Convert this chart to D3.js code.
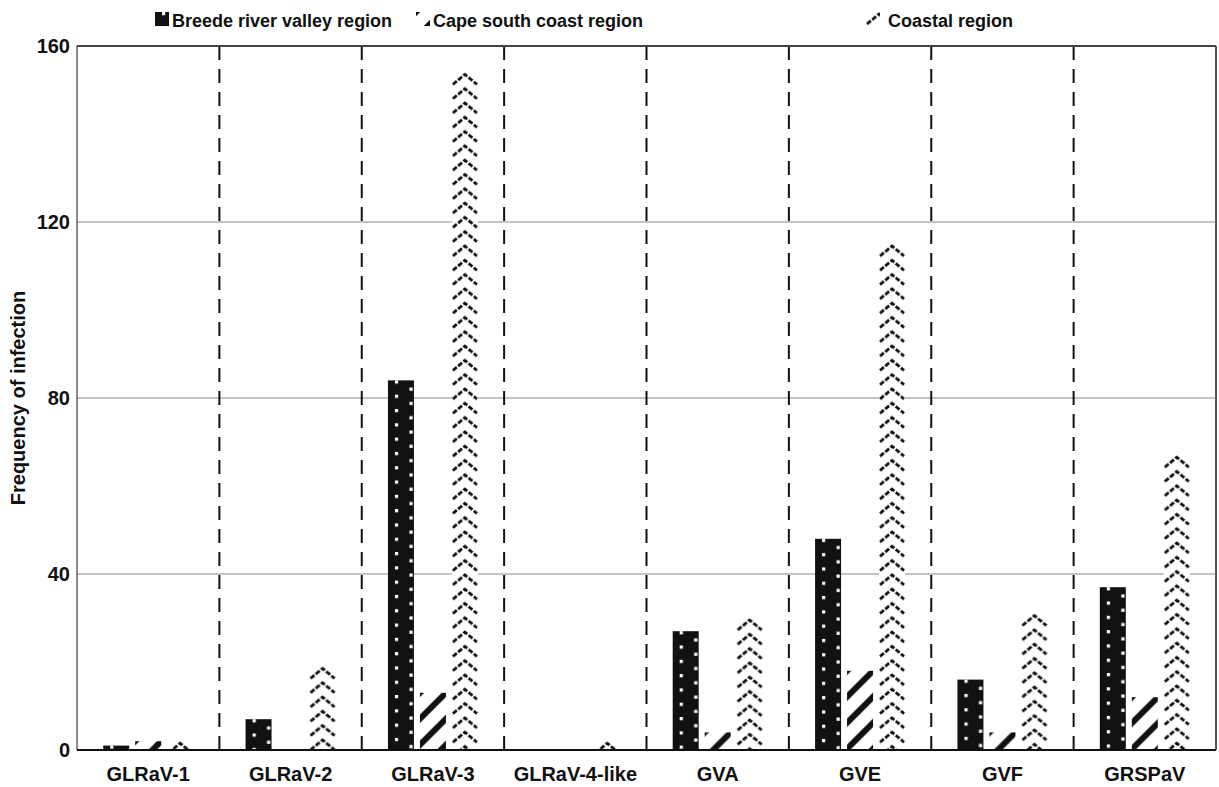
<!DOCTYPE html>
<head>
	<meta charset="utf-8">
	<title>Frequency of infection by region</title>
	<script src="https://cdn.jsdelivr.net/npm/d3@7"></script>
	<style>
		body { margin: 0; background: #fff; }
		text { font-family: "Liberation Sans", Arial, sans-serif; font-weight: bold; fill: #111; }
	</style>
</head>

<body>
	<div id="chart"></div>

	<script>
	// values
	var categories = ["GLRaV-1", "GLRaV-2", "GLRaV-3", "GLRaV-4-like", "GVA", "GVE", "GVF", "GRSPaV"];
	var seriesNames = ["Breede river valley region", "Cape south coast region", "Coastal region"];
	var breede  = [1, 7, 84, 0, 27, 48, 16, 37];
	var cape    = [2, 0, 13, 0, 4, 18, 4, 12];
	var coastal = [2, 19, 154, 2, 30, 115, 31, 67];
	var yTicks  = [0, 40, 80, 120, 160];

	var values = [breede, cape, coastal];
	var patternIds = ["pat-dots", "pat-stripes", "pat-chevron"];

	var width = 1219, height = 787;
	var margin = {top: 46, right: 3, bottom: 37, left: 77};

	var svg = d3.select("#chart").append("svg")
		.attr("width", width)
		.attr("height", height);

	// --- fill patterns
	var defs = svg.append("defs");

	var dots = defs.append("pattern")
		.attr("id", "pat-dots")
		.attr("patternUnits", "userSpaceOnUse")
		.attr("width", 29).attr("height", 14.3);
	dots.append("rect").attr("width", 29).attr("height", 14.3).attr("fill", "#111");
	dots.append("rect").attr("x", 7).attr("y", 0).attr("width", 3.2).attr("height", 3.2).attr("fill", "#fff");
	dots.append("rect").attr("x", 21.5).attr("y", 7.15).attr("width", 3.2).attr("height", 3.2).attr("fill", "#fff");

	var stripes = defs.append("pattern")
		.attr("id", "pat-stripes")
		.attr("patternUnits", "userSpaceOnUse")
		.attr("width", 26).attr("height", 26);
	stripes.append("rect").attr("width", 26).attr("height", 26).attr("fill", "#fff");
	stripes.append("path")
		.attr("d", "M-4,30 L30,-4 M-4,4 L4,-4 M22,30 L30,22")
		.attr("stroke", "#111").attr("stroke-width", 6);

	var chevron = defs.append("pattern")
		.attr("id", "pat-chevron")
		.attr("patternUnits", "userSpaceOnUse")
		.attr("width", 26).attr("height", 14.3);
	chevron.append("rect").attr("width", 26).attr("height", 14.3).attr("fill", "#fff");
	chevron.append("path")
		.attr("d", "M1,12 L13,2 L25,12")
		.attr("fill", "none")
		.attr("stroke", "#111").attr("stroke-width", 2.8)
		.attr("stroke-dasharray", "5,1.8");

	// --- scales
	var x0 = d3.scaleBand()
		.domain(categories)
		.range([margin.left, width - margin.right])
		.paddingInner(0.368)
		.paddingOuter(0.184);

	var x1 = d3.scaleBand()
		.domain(seriesNames)
		.range([0, x0.bandwidth()])
		.paddingInner(0.1875);

	var y = d3.scaleLinear()
		.domain([0, 160])
		.range([height - margin.bottom, margin.top]);

	var left = margin.left, right = width - margin.right;

	// gridlines
	svg.append("g")
		.selectAll("line")
		.data(yTicks.filter(function (d) { return d > 0 && d < 160; }))
		.enter().append("line")
			.attr("x1", left).attr("x2", right)
			.attr("y1", function (d) { return y(d); })
			.attr("y2", function (d) { return y(d); })
			.attr("stroke", "#8a8a8a")
			.attr("stroke-width", 1.2);

	// dashed category separators
	svg.append("g")
		.selectAll("line")
		.data(d3.range(1, categories.length))
		.enter().append("line")
			.attr("x1", function (i) { return left + i * x0.step(); })
			.attr("x2", function (i) { return left + i * x0.step(); })
			.attr("y1", y(160)).attr("y2", y(0))
			.attr("stroke", "#111")
			.attr("stroke-width", 2)
			.attr("stroke-dasharray", "14,9");

	// bars: each bar sits in its own group so the pattern starts at the bar's top-left
	var rows = [];
	categories.forEach(function (c, i) {
		seriesNames.forEach(function (s, j) {
			rows.push({cat: c, series: j, value: values[j][i]});
		});
	});

	var bar = svg.append("g")
		.selectAll("g")
		.data(rows.filter(function (d) { return d.value > 0; }))
		.enter().append("g")
			.attr("transform", function (d) {
				return "translate(" + (x0(d.cat) + x1(seriesNames[d.series])) + "," + y(d.value) + ")";
			});
	bar.append("rect")
		.attr("width", x1.bandwidth())
		.attr("height", function (d) { return y(0) - y(d.value); })
		.attr("fill", function (d) { return "url(#" + patternIds[d.series] + ")"; });

	// frame
	svg.append("line")
		.attr("x1", left).attr("x2", left).attr("y1", y(160)).attr("y2", y(0))
		.attr("stroke", "#666").attr("stroke-width", 1.5);
	svg.append("line")
		.attr("x1", right).attr("x2", right).attr("y1", y(160)).attr("y2", y(0))
		.attr("stroke", "#555").attr("stroke-width", 2);
	svg.append("line")
		.attr("x1", left).attr("x2", right).attr("y1", y(160)).attr("y2", y(160))
		.attr("stroke", "#444").attr("stroke-width", 2);
	svg.append("line")
		.attr("x1", left).attr("x2", right).attr("y1", y(0)).attr("y2", y(0))
		.attr("stroke", "#111").attr("stroke-width", 2);

	// axes
	var yAxis = svg.append("g")
		.attr("transform", "translate(" + left + ",0)")
		.call(d3.axisLeft(y).tickValues(yTicks).tickSize(0).tickPadding(7));
	yAxis.select(".domain").remove();
	yAxis.selectAll("text").style("font-size", "20px").attr("fill", "#111");

	var xAxis = svg.append("g")
		.attr("transform", "translate(0," + y(0) + ")")
		.call(d3.axisBottom(x0).tickSize(0).tickPadding(17));
	xAxis.select(".domain").remove();
	xAxis.selectAll("text").style("font-size", "20px").attr("fill", "#111");

	svg.append("text")
		.attr("transform", "translate(25," + ((y(0) + y(160)) / 2) + ") rotate(-90)")
		.attr("text-anchor", "middle")
		.style("font-size", "20px")
		.text("Frequency of infection");

	// legend
	var legendX = [155, 416, 866];
	var legend = svg.append("g")
		.selectAll("g")
		.data(seriesNames)
		.enter().append("g")
			.attr("transform", function (d, i) { return "translate(" + legendX[i] + ",12)"; });
	legend.append("rect")
		.attr("width", 14).attr("height", 14)
		.attr("fill", function (d, i) { return "url(#" + patternIds[i] + ")"; });
	legend.append("text")
		.attr("x", function (d, i) { return i === 2 ? 22 : 17; })
		.attr("y", 15)
		.style("font-size", "18px")
		.text(function (d) { return d; });
	</script>
</body>
</html>
